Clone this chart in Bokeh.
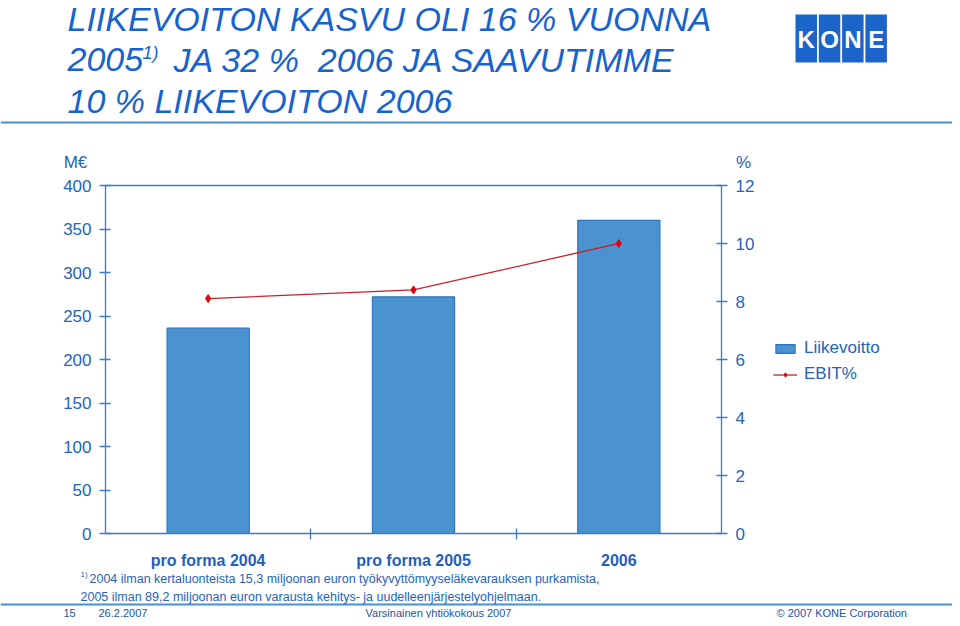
from bokeh.plotting import figure
from bokeh.models import (Range1d, LinearAxis, FixedTicker, Label, Legend,
                          LegendItem, BoxAnnotation)
from bokeh.embed import file_html
from bokeh.resources import INLINE

# ---- data ----
categories = ["pro forma 2004", "pro forma 2005", "2006"]
liikevoitto = [236, 272, 360]          # M€
ebit_pct = [8.1, 8.4, 10.0]            # %
left_ticks = [0, 50, 100, 150, 200, 250, 300, 350, 400]
right_ticks = [0, 2, 4, 6, 8, 10, 12]

# ---- styles ----
FONT = "Liberation Sans"
AXIS_C = "#3b7cc5"
TICK_C = "#2563bb"
TITLE_C = "#1763cc"
BAR_FILL = "#4b93cf"
BAR_LINE = "#2f73bd"
RED_LINE = "#c8202a"
RED_MARK = "#e3000f"
FOOT_C = "#24559f"

centers = [i + 0.5 for i in range(len(categories))]
boundaries = list(range(1, len(categories)))
NCAT = len(categories)
YMAX_L, YMAX_R = left_ticks[-1], right_ticks[-1]

# page size and chart box (pixels from top-left)
W, H = 952, 618
CL, CT, CR, CB = 105, 185, 721, 533

# ranges chosen so the whole canvas is the frame and the chart box lands on CL..CR, CT..CB
kx = NCAT / (CR - CL)
ky = YMAX_L / (CB - CT)
kr = YMAX_R / (CB - CT)
x_range = Range1d(-CL * kx, NCAT + (W - CR) * kx)
y_range = Range1d(-(H - CB) * ky, YMAX_L + CT * ky)
pct_range = Range1d(-(H - CB) * kr, YMAX_R + CT * kr)

p = figure(width=W, height=H, output_backend="svg", toolbar_location=None,
           x_range=x_range, y_range=y_range, min_border=0,
           x_axis_type=None, y_axis_type=None)
p.extra_y_ranges = {"pct": pct_range}
p.xgrid.visible = False
p.ygrid.visible = False
p.outline_line_color = None
p.background_fill_color = "white"
p.border_fill_color = "white"

bars = p.vbar(x=centers, top=liikevoitto, width=0.4, fill_color=BAR_FILL,
              line_color=BAR_LINE, line_width=1.2)
ln = p.line(centers, ebit_pct, y_range_name="pct", line_color=RED_LINE,
            line_width=1.3)
mk = p.scatter(centers, ebit_pct, y_range_name="pct", marker="diamond",
               size=8, fill_color=RED_MARK, line_color=RED_MARK)

def style_axis(ax, size="17px"):
    ax.axis_line_color = AXIS_C
    ax.axis_line_width = 1.3
    ax.major_tick_line_color = AXIS_C
    ax.major_tick_line_width = 1.3
    ax.major_tick_in = 5
    ax.major_tick_out = 6
    ax.minor_tick_line_color = None
    ax.major_label_text_font = FONT
    ax.major_label_text_font_size = size
    ax.major_label_text_color = TICK_C
    ax.major_label_standoff = 8

yl = LinearAxis(ticker=FixedTicker(ticks=left_ticks), fixed_location=0,
                bounds=(0, YMAX_L))
style_axis(yl)
p.add_layout(yl, "left")

yr = LinearAxis(y_range_name="pct", ticker=FixedTicker(ticks=right_ticks),
                fixed_location=NCAT, bounds=(0, YMAX_R))
style_axis(yr)
p.add_layout(yr, "right")

xa = LinearAxis(ticker=FixedTicker(ticks=centers, minor_ticks=boundaries),
                major_label_overrides={c: cat for c, cat in zip(centers, categories)},
                fixed_location=0, bounds=(0, NCAT))
style_axis(xa, "16px")
xa.major_tick_line_color = None
xa.major_tick_in = 0
xa.major_tick_out = 0
xa.minor_tick_line_color = AXIS_C
xa.minor_tick_line_width = 1.3
xa.minor_tick_in = 5
xa.minor_tick_out = 6
xa.major_label_text_font_style = "bold"
xa.major_label_standoff = 12
xa.major_label_text_color = "#1f5fbf"
p.add_layout(xa, "below")

# top border of the chart box
xt = LinearAxis(ticker=FixedTicker(ticks=[]), fixed_location=YMAX_L,
                bounds=(0, NCAT))
style_axis(xt)
xt.major_tick_line_color = None
xt.major_label_text_font_size = "0px"
p.add_layout(xt, "above")

legend = Legend(items=[LegendItem(label="Liikevoitto", renderers=[bars]),
                       LegendItem(label="EBIT%", renderers=[ln, mk])],
                location=(773, H - 384), padding=0, margin=0,
                border_line_color=None, background_fill_alpha=0,
                glyph_width=24, glyph_height=11, label_standoff=7, spacing=6,
                label_height=20, label_text_font=FONT,
                label_text_font_size="17px", label_text_color=TICK_C)
p.add_layout(legend)

# ---- decorations in page pixels (X from left, Y = vertical centre from top) ----
def lab(text, X, Y, size, color=TICK_C, style="normal", align="left"):
    p.add_layout(Label(x=X, y=H - Y, x_units="screen", y_units="screen",
                       text=text, text_font=FONT, text_font_size=f"{size}px",
                       text_color=color, text_font_style=style, text_align=align,
                       text_baseline="middle"))

def box(L, T, R, B, color):
    p.add_layout(BoxAnnotation(left=L, right=R, top=H - T, bottom=H - B,
                               left_units="screen", right_units="screen",
                               top_units="screen", bottom_units="screen",
                               fill_color=color, fill_alpha=1, line_color=None))

# title
lab("LIIKEVOITON KASVU OLI 16 % VUONNA", 67, 18, 34, TITLE_C, "italic")
lab("2005", 67, 59, 34, TITLE_C, "italic")
lab("1)", 142, 52, 18, TITLE_C, "italic")
lab("JA 32 %\u00a0 2006 JA SAAVUTIMME", 173, 59, 34, TITLE_C, "italic")
lab("10 % LIIKEVOITON 2006", 67, 100, 34, TITLE_C, "italic")

# rules
box(0, 121, W, 123, "#4a8fd0")
box(0, 603, W, 605, "#4a8fd0")

# KONE logo
for k, letter in enumerate("KONE"):
    L = 795 + k * 23.3
    box(L, 14, L + 21.5, 62, "#1b64c9")
    lab(letter, L + 10.75, 38.5, 24, "white", "bold", "center")

# axis unit labels
lab("M€", 75, 162, 17, TICK_C, align="center")
lab("%", 743, 162, 17, TICK_C, align="center")

# footnote
lab("1)", 80, 574, 8, TICK_C)
lab("2004 ilman kertaluonteista 15,3 miljoonan euron työkyvyttömyyseläkevarauksen purkamista,",
    89, 578, 12.5, TICK_C)
lab("2005 ilman 89,2 miljoonan euron varausta kehitys- ja uudelleenjärjestelyohjelmaan.",
    80, 596, 12.5, TICK_C)

# footer
lab("15", 63, 612, 11, FOOT_C)
lab("26.2.2007", 98, 612, 11, FOOT_C)
lab("Varsinainen yhtiökokous 2007", 438, 612, 11, FOOT_C, align="center")
lab("© 2007 KONE Corporation", 776, 612, 11, FOOT_C)

open("out.html", "w").write(file_html(p, INLINE))
